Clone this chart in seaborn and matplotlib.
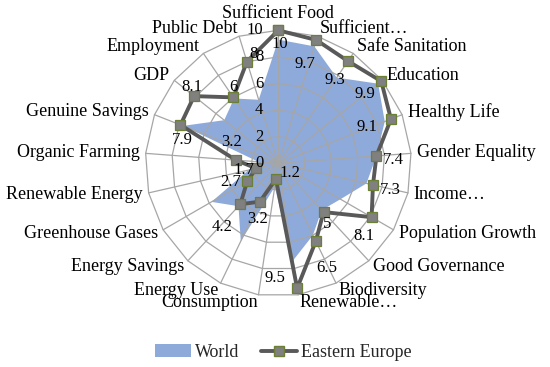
import numpy as np
import pandas as pd
import matplotlib
matplotlib.use("Agg")
import matplotlib.pyplot as plt
import seaborn as sns
from matplotlib.lines import Line2D
from matplotlib.patches import Patch

# ---------------- data ----------------
categories = ["Sufficient Food", "Sufficient…", "Safe Sanitation", "Education",
              "Healthy Life", "Gender Equality", "Income…", "Population Growth",
              "Good Governance", "Biodiversity", "Renewable…", "Consumption",
              "Energy Use", "Energy Savings", "Greenhouse Gases", "Renewable Energy",
              "Organic Farming", "Genuine Savings", "GDP", "Employment", "Public Debt"]
world = [9.3, 9.2, 7.8, 9.6, 8.6, 7.4, 6.8, 5.4, 4.8, 6.0, 7.4,
         1.8, 6.5, 4.4, 5.8, 2.3, 1.5, 7.7, 5.2, 5.9, 5.0]
eastern_europe = [10, 9.7, 9.3, 9.9, 9.1, 7.4, 7.3, 8.1, 5, 6.5, 9.5,
                  1.2, 3.2, 4.2, 2.7, 1.7, 3.2, 7.9, 8.1, 6, 8]
tick_values = [0, 2, 4, 6, 8, 10]
series_names = ["World", "Eastern Europe"]

# label offsets (pixels: right, down) for Eastern Europe data labels
label_offsets = [(1, 14), (-11, 24), (-13, 19), (-16, 13), (-24, 8), (17, 4), (17, 5),
                 (-8, 19), (4, 12), (11, 27), (-22, -10), (14, -6), (-2, 17), (-18, 23),
                 (-17, 1), (-12, 2), (-4, -18), (2, 15), (-2, -9), (0, -10), (7, -8)]

# ---------------- style ----------------
sns.set_theme(style="white")
plt.rcParams["font.family"] = ["Liberation Serif", "DejaVu Serif"]
FS = 13
GRID = "#a6a6a6"
BLUE = "#8eaadb"
LINE = "#595959"
MFACE = "#808080"
MEDGE = "#6b7f35"

n = len(categories)
angles = np.arange(n) * 2 * np.pi / n
ang_closed = np.append(angles, angles[0] + 2 * np.pi)

df = pd.DataFrame({
    "theta": ang_closed,
    "world": world + [world[0]],
    "ee": eastern_europe + [eastern_europe[0]],
})

fig = plt.figure(figsize=(5.5, 3.67), dpi=100)
cx, cy, R = 278.3, 163.3, 133.0
W, H = 550.0, 367.0
ax = fig.add_axes([(cx - R) / W, (H - cy - R) / H, 2 * R / W, 2 * R / H], projection="polar")
ax.set_theta_zero_location("N")
ax.set_theta_direction(-1)
ax.set_ylim(0, 10)
ax.grid(False)
ax.spines["polar"].set_visible(False)
ax.set_xticks([])
ax.set_yticks([])
ax.patch.set_alpha(0)

# World fill
ax.fill(df["theta"], df["world"], color=BLUE, zorder=1, lw=0)

# polygon grid
for r in tick_values[1:]:
    ax.plot(ang_closed, [r] * len(ang_closed), color=GRID, lw=0.9, zorder=2, clip_on=False)
for th in angles:
    ax.plot([th, th], [0, 10], color=GRID, lw=0.9, zorder=2, clip_on=False)

# Eastern Europe line
sns.lineplot(data=df, x="theta", y="ee", sort=False, ax=ax, color=LINE, lw=2.8,
             marker="s", markersize=6.5, markerfacecolor=MFACE, markeredgecolor=MEDGE,
             markeredgewidth=0.9, zorder=4, clip_on=False)
ax.set_xlabel("")
ax.set_ylabel("")

# data labels
for th, v, (dx, dy) in zip(angles, eastern_europe, label_offsets):
    ax.annotate(f"{v:g}", xy=(th, v), xytext=(dx, -dy), textcoords="offset pixels",
                ha="center", va="center", fontsize=FS - 1, color="black",
                annotation_clip=False, zorder=5)

# radial tick labels
for v in tick_values:
    ax.annotate(f"{v}", xy=(0, v), xytext=(-15, 0), textcoords="offset pixels",
                ha="right", va="center", fontsize=FS - 1, color="black",
                annotation_clip=False, zorder=5)

# category labels
for th, cat in zip(angles, categories):
    s, c = np.sin(th), np.cos(th)
    if s > 0.05:
        ha = "left"
    elif s < -0.05:
        ha = "right"
    else:
        ha = "center"
    va = "bottom" if (ha == "center" and c > 0) else "center"
    ax.annotate(cat, xy=(th, 10), xytext=(6 * s, 8 * c), textcoords="offset pixels",
                ha=ha, va=va, fontsize=FS, color="black", annotation_clip=False)

# legend
handles = [Patch(facecolor=BLUE, edgecolor="none"),
           Line2D([0], [0], color=LINE, lw=2.8, marker="s", markersize=6.5,
                  markerfacecolor=MFACE, markeredgecolor=MEDGE)]
fig.legend(handles, series_names, loc="center", bbox_to_anchor=(0.515, 0.04), ncol=2,
           frameon=False, fontsize=FS, handlelength=2.0, handletextpad=0.2,
           columnspacing=1.2)

fig.savefig("out.png", dpi=100)
